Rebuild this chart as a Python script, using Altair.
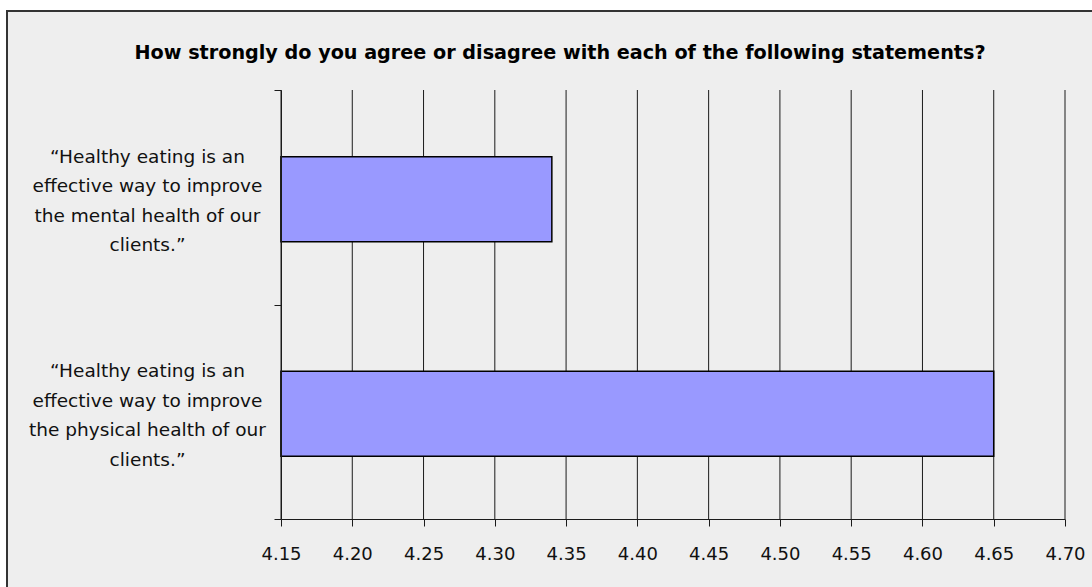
import altair as alt
import pandas as pd

# Survey statements (one line of the label per list item) and mean agreement scores
statements = [
    ["“Healthy eating is an", "effective way to improve", "the mental health of our", "clients.”"],
    ["“Healthy eating is an", "effective way to improve", "the physical health of our", "clients.”"],
]
scores = [4.34, 4.65]
tick_values = [4.15, 4.20, 4.25, 4.30, 4.35, 4.40, 4.45, 4.50, 4.55, 4.60, 4.65, 4.70]
axis_start = 4.15
chart_title = "How strongly do you agree or disagree with each of the following statements?"

labels = ["\n".join(s) for s in statements]
df = pd.DataFrame({"statement": labels, "score": scores})
grid_df = pd.DataFrame({"tick": tick_values})

FONT = "DejaVu Sans"
PLOT_W, PLOT_H = 784, 429

x_scale = alt.Scale(domain=[4.15, 4.70], nice=False, zero=False)
y_scale = alt.Scale(paddingInner=0, paddingOuter=0)

x_axis = alt.Axis(
    values=tick_values, format=".2f", title=None, grid=False,
    domainColor="#1a1a1a", tickColor="#1a1a1a", tickSize=7,
    labelFont=FONT, labelFontSize=18, labelColor="#111111",
    labelPadding=19, labelFlush=False, zindex=2,
)
y_axis = alt.Axis(
    title=None, tickBand="extent", grid=False,
    domainColor="#1a1a1a", tickColor="#1a1a1a", tickSize=7,
    labelAlign="center", labelBaseline="middle", labelOffset=-41,
    labelExpr="split(datum.label, '\\n')", labelLineHeight=29.5,
    labelFont=FONT, labelFontSize=18.5, labelColor="#111111",
    labelPadding=127, labelLimit=400, zindex=2,
)

# Grey panel with a dark frame behind everything
panel = alt.Chart(alt.Data(values=[{}])).mark_rect(
    fill="#eeeeee", stroke="#333333", strokeWidth=2
).encode(
    x=alt.value(-274), x2=alt.value(1300), y=alt.value(-79), y2=alt.value(700)
)

# Chart heading, centred over the whole panel
heading = alt.Chart(alt.Data(values=[{"t": chart_title}])).mark_text(
    font=FONT, fontSize=19.2, fontWeight="bold", color="#000000",
    align="center", baseline="middle",
).encode(
    text="t:N", x=alt.value(279), y=alt.value(-37)
)

# Vertical gridlines at each tick value
grid = alt.Chart(grid_df).mark_rule(color="#1a1a1a", strokeWidth=1).encode(
    x=alt.X("tick:Q", scale=x_scale, axis=x_axis)
)

bars = alt.Chart(df).mark_bar(
    fill="#9999ff", stroke="#000000", strokeWidth=1.5, size=85, yOffset=2
).encode(
    x=alt.X("score:Q", scale=x_scale, axis=x_axis),
    x2=alt.datum(axis_start),
    y=alt.Y("statement:N", sort=labels, scale=y_scale, axis=y_axis),
)

chart = alt.layer(panel, heading, grid, bars).properties(
    width=PLOT_W,
    height=PLOT_H,
    padding={"left": 281, "top": 90, "right": 27, "bottom": 68},
    autosize=alt.AutoSizeParams(type="none"),
    background="#ffffff",
).configure_view(stroke=None)

chart.save("out.html", embed_options={"renderer": "svg", "actions": False})
